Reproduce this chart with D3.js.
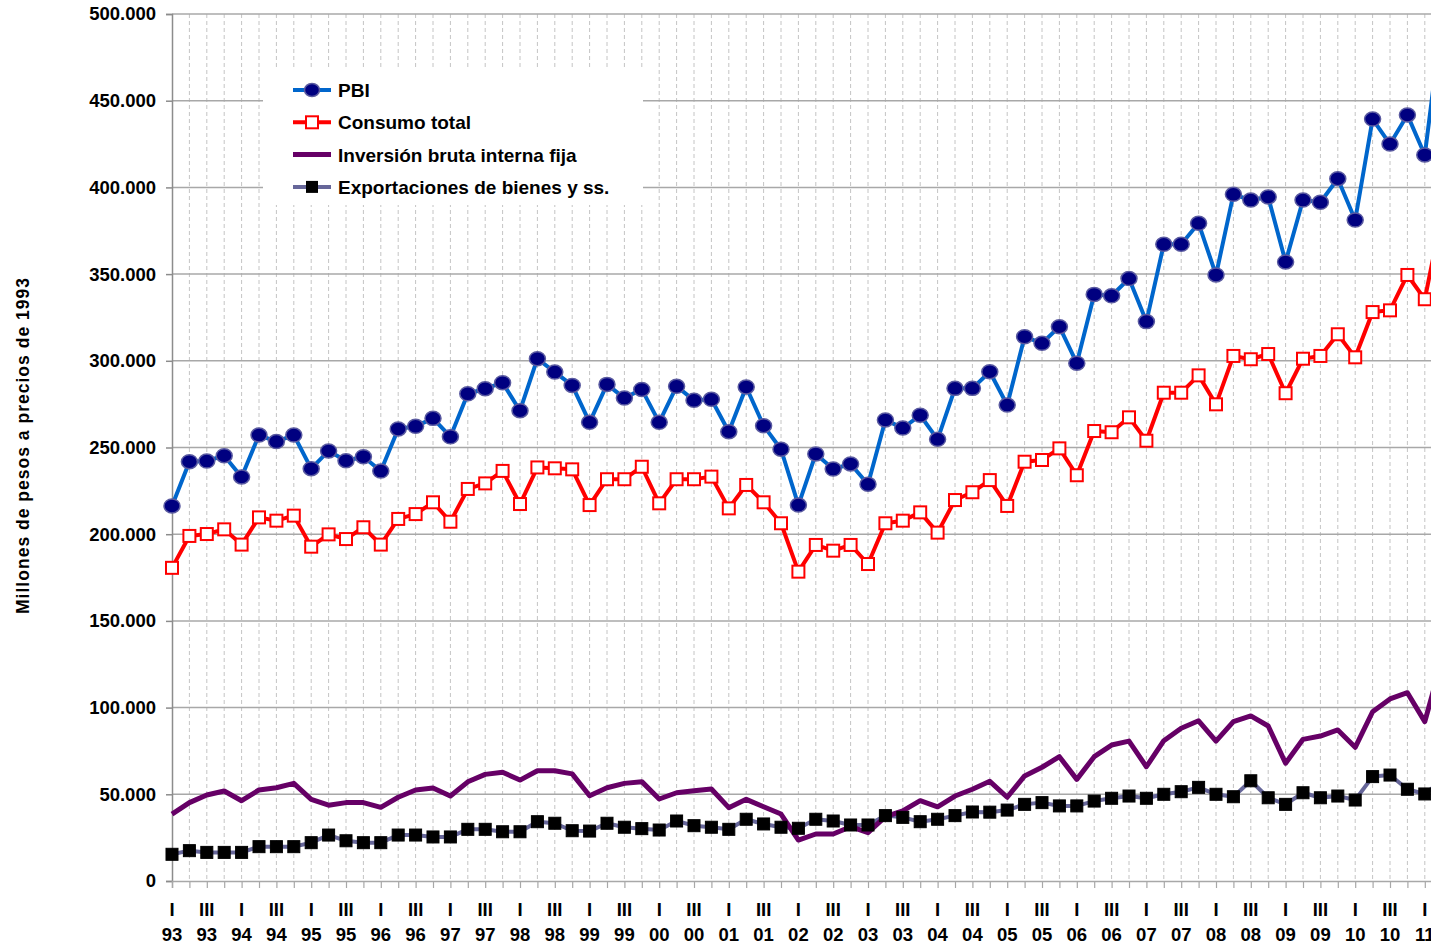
<!DOCTYPE html>
<html>
<head>
<meta charset="utf-8">
<script src="https://cdn.jsdelivr.net/npm/d3@7"></script>
<style>
  body { margin: 0; background: #fff; overflow: hidden; }
  text { font-family: "Liberation Sans", Arial, sans-serif; font-weight: bold; fill: #000; }
</style>
</head>
<body>
<script>
// quarters 1993 Q1 .. 2011 Q2 (values in thousands of millions of pesos, 1993 prices)
var years = ["93","94","95","96","97","98","99","00","01","02","03","04","05","06","07","08","09","10","11"];
var quarterNames = ["I","II","III","IV"];
var yTicks = [0, 50, 100, 150, 200, 250, 300, 350, 400, 450, 500];

var pbi = [216.3,241.8,242.2,245.3, 233.0,257.2,253.4,257.2, 237.8,248.0,242.4,244.7, 236.4,260.7,262.2,266.8,
  256.2,281.0,283.9,287.4, 271.2,301.2,293.5,285.8, 264.5,286.4,278.5,283.5, 264.5,285.3,277.2,277.8,
  259.1,284.9,262.6,249.0, 216.8,246.3,237.6,240.5, 228.8,265.9,261.2,268.6, 254.7,284.1,284.1,293.7,
  274.5,313.9,310.1,319.7, 298.6,338.3,337.5,347.4, 322.6,367.2,367.2,379.3, 349.5,396.0,392.7,394.5,
  357.0,392.7,391.4,405.0, 381.2,439.4,425.0,441.8, 418.7,498];
var consumo = [180.6,199.0,200.1,202.8, 194.0,209.7,207.8,210.7, 192.8,199.9,197.2,204.0, 194.0,208.8,211.6,218.4,
  207.2,226.1,229.3,236.5, 217.4,238.5,238.0,237.4, 216.8,231.7,231.7,238.9, 217.8,231.7,231.7,233.2,
  214.9,228.4,218.4,206.3, 178.4,193.8,190.5,193.8, 182.8,206.3,207.8,212.6, 200.9,219.7,224.2,231.2,
  216.3,241.8,242.8,249.5, 234.0,259.5,258.8,267.4, 253.9,281.6,281.6,291.6, 274.9,302.8,300.9,303.9,
  281.3,301.2,302.8,315.3, 302.0,328.1,329.1,349.5, 335.5,385];
var inversion = [38.6,45.2,49.6,51.9, 46.3,52.5,53.8,56.3, 47.1,43.7,45.2,45.2, 42.5,48.3,52.5,53.6,
  49.0,57.2,61.5,62.7, 58.2,63.6,63.6,61.8, 49.2,53.8,56.3,57.3, 47.3,50.9,52.1,53.1,
  42.3,47.1,42.8,38.6, 23.6,27.1,27.1,31.3, 27.9,37.1,40.4,46.3, 42.8,49.0,52.9,57.5,
  48.3,60.6,65.6,71.7, 58.6,71.7,78.4,80.7, 65.9,80.9,88.1,92.4, 80.7,91.9,95.2,89.4,
  67.9,81.7,83.6,87.1, 77.1,97.6,105.0,108.6, 91.9,128];
var exportaciones = [15.4,17.5,16.5,16.5, 16.5,19.8,19.8,19.8, 22.1,26.5,23.2,22.1, 22.1,26.5,26.5,25.4,
  25.4,29.8,29.8,28.4, 28.4,34.2,33.3,29.0, 28.8,33.3,31.0,30.2, 29.4,34.6,31.9,31.0,
  29.8,35.6,32.9,31.0, 30.4,35.6,34.6,32.3, 32.3,37.7,36.7,34.2, 35.6,37.7,39.8,39.7,
  40.9,44.2,45.2,43.3, 43.3,46.1,47.7,49.0, 47.7,50.0,51.5,54.0, 50.0,48.6,57.8,48.0,
  44.2,50.9,48.0,49.0, 46.7,60.2,61.1,52.9, 50.2,58];

var seriesNames = ["PBI", "Consumo total", "Inversión bruta interna fija", "Exportaciones de bienes y ss."];

// category keys
var cats = [];
years.forEach(function(y){
  quarterNames.forEach(function(q){ cats.push(q + " " + y); });
});
cats = cats.slice(0, pbi.length);

var W = 1431, H = 946;
var svg = d3.select("body").append("svg").attr("width", W).attr("height", H);

var step = 17.40;
var x = d3.scalePoint().domain(cats).range([172, 172 + step * (cats.length - 1)]);
var y = d3.scaleLinear().domain([0, 500]).range([881, 14]);

var fmt = function(v){ return d3.format(",")(v * 1000).replace(/,/g, "."); };

// vertical dashed gridlines
svg.append("g").selectAll("line").data(cats.slice(1)).enter().append("line")
  .attr("x1", d => x(d)).attr("x2", d => x(d))
  .attr("y1", y(500)).attr("y2", y(0))
  .attr("stroke", "#c4c4c4").attr("stroke-width", 1).attr("stroke-dasharray", "4,3");

// horizontal gridlines
svg.append("g").selectAll("line").data(yTicks.slice(1)).enter().append("line")
  .attr("x1", 172).attr("x2", W)
  .attr("y1", d => y(d)).attr("y2", d => y(d))
  .attr("stroke", "#a8a8a8").attr("stroke-width", 1.5);

// y axis
var yAxis = d3.axisLeft(y).tickValues(yTicks).tickSize(6).tickPadding(10).tickFormat(fmt);
var gy = svg.append("g").attr("transform", "translate(172,0)").call(yAxis);
gy.select(".domain").attr("stroke", "#8c8c8c").attr("stroke-width", 1.5);
gy.selectAll(".tick line").attr("stroke", "#8c8c8c").attr("stroke-width", 1.5);
gy.selectAll(".tick text").attr("font-size", "18.5px").attr("font-weight", "bold")
  .attr("font-family", "Liberation Sans, Arial, sans-serif").attr("fill", "#000");

// x axis
var xAxis = d3.axisBottom(x).tickSize(7).tickFormat("");
var gx = svg.append("g").attr("transform", "translate(0,881)").call(xAxis);
gx.select(".domain").attr("stroke", "#a8a8a8").attr("stroke-width", 1.5);
gx.selectAll(".tick line").attr("stroke", "#a8a8a8").attr("stroke-width", 1.2);

// x labels every two quarters
var labelled = cats.filter(function(c, i){ return i % 2 === 0; });
svg.append("g").selectAll("text.q").data(labelled).enter().append("text")
  .attr("class", "q")
  .attr("x", d => x(d)).attr("y", 916)
  .attr("text-anchor", "middle").attr("font-size", "18.5px")
  .text(d => d.split(" ")[0]);
svg.append("g").selectAll("text.yr").data(labelled).enter().append("text")
  .attr("class", "yr")
  .attr("x", d => x(d)).attr("y", 941)
  .attr("text-anchor", "middle").attr("font-size", "18.5px")
  .text(d => d.split(" ")[1]);

// y title
svg.append("text")
  .attr("transform", "translate(29,446) rotate(-90)")
  .attr("text-anchor", "middle").attr("font-size", "17.5px")
  .attr("textLength", 336).attr("lengthAdjust", "spacing")
  .text("Millones de pesos a precios de 1993");

// legend background (covers gridlines)
svg.append("rect").attr("x", 263).attr("y", 70).attr("width", 380).attr("height", 135).attr("fill", "#fff");

var line = d3.line().x((d, i) => x(cats[i])).y(d => y(d));

svg.append("path").datum(exportaciones).attr("d", line)
  .attr("fill", "none").attr("stroke", "#666699").attr("stroke-width", 4).attr("stroke-linejoin", "round");
svg.append("path").datum(inversion).attr("d", line)
  .attr("fill", "none").attr("stroke", "#660066").attr("stroke-width", 5).attr("stroke-linejoin", "round");
svg.append("path").datum(consumo).attr("d", line)
  .attr("fill", "none").attr("stroke", "#ff0000").attr("stroke-width", 4).attr("stroke-linejoin", "round");
svg.append("path").datum(pbi).attr("d", line)
  .attr("fill", "none").attr("stroke", "#0066cc").attr("stroke-width", 4).attr("stroke-linejoin", "round");

// markers
svg.append("g").selectAll("ellipse").data(pbi).enter().append("ellipse")
  .attr("cx", (d, i) => x(cats[i])).attr("cy", d => y(d))
  .attr("rx", 8).attr("ry", 7)
  .attr("fill", "#000080").attr("stroke", "#5a5aa0").attr("stroke-width", 1.5);

svg.append("g").selectAll("rect").data(consumo).enter().append("rect")
  .attr("x", (d, i) => x(cats[i]) - 6).attr("y", d => y(d) - 6)
  .attr("width", 12).attr("height", 12)
  .attr("fill", "#fff").attr("stroke", "#ff0000").attr("stroke-width", 2);

svg.append("g").selectAll("rect").data(exportaciones).enter().append("rect")
  .attr("x", (d, i) => x(cats[i]) - 6).attr("y", d => y(d) - 6)
  .attr("width", 12).attr("height", 12)
  .attr("fill", "#000").attr("stroke", "#000").attr("stroke-width", 1);

// legend
var lg = svg.append("g").attr("transform", "translate(293,90)");
var rowH = 32.3;
var colors = ["#0066cc", "#ff0000", "#660066", "#666699"];
seriesNames.forEach(function(name, i){
  var row = lg.append("g").attr("transform", "translate(0," + (i * rowH) + ")");
  row.append("line").attr("x1", 0).attr("x2", 38).attr("y1", 0).attr("y2", 0)
    .attr("stroke", colors[i]).attr("stroke-width", i === 2 ? 5 : 4);
  if (i === 0) {
    row.append("ellipse").attr("cx", 19).attr("cy", 0).attr("rx", 7.5).attr("ry", 6.5)
      .attr("fill", "#000080").attr("stroke", "#5a5aa0").attr("stroke-width", 1.5);
  } else if (i === 1) {
    row.append("rect").attr("x", 13).attr("y", -6).attr("width", 12).attr("height", 12)
      .attr("fill", "#fff").attr("stroke", "#ff0000").attr("stroke-width", 2);
  } else if (i === 3) {
    row.append("rect").attr("x", 13).attr("y", -6).attr("width", 12).attr("height", 12)
      .attr("fill", "#000");
  }
  row.append("text").attr("x", 45).attr("y", 7).attr("font-size", "19px").text(name);
});
</script>
</body>
</html>
